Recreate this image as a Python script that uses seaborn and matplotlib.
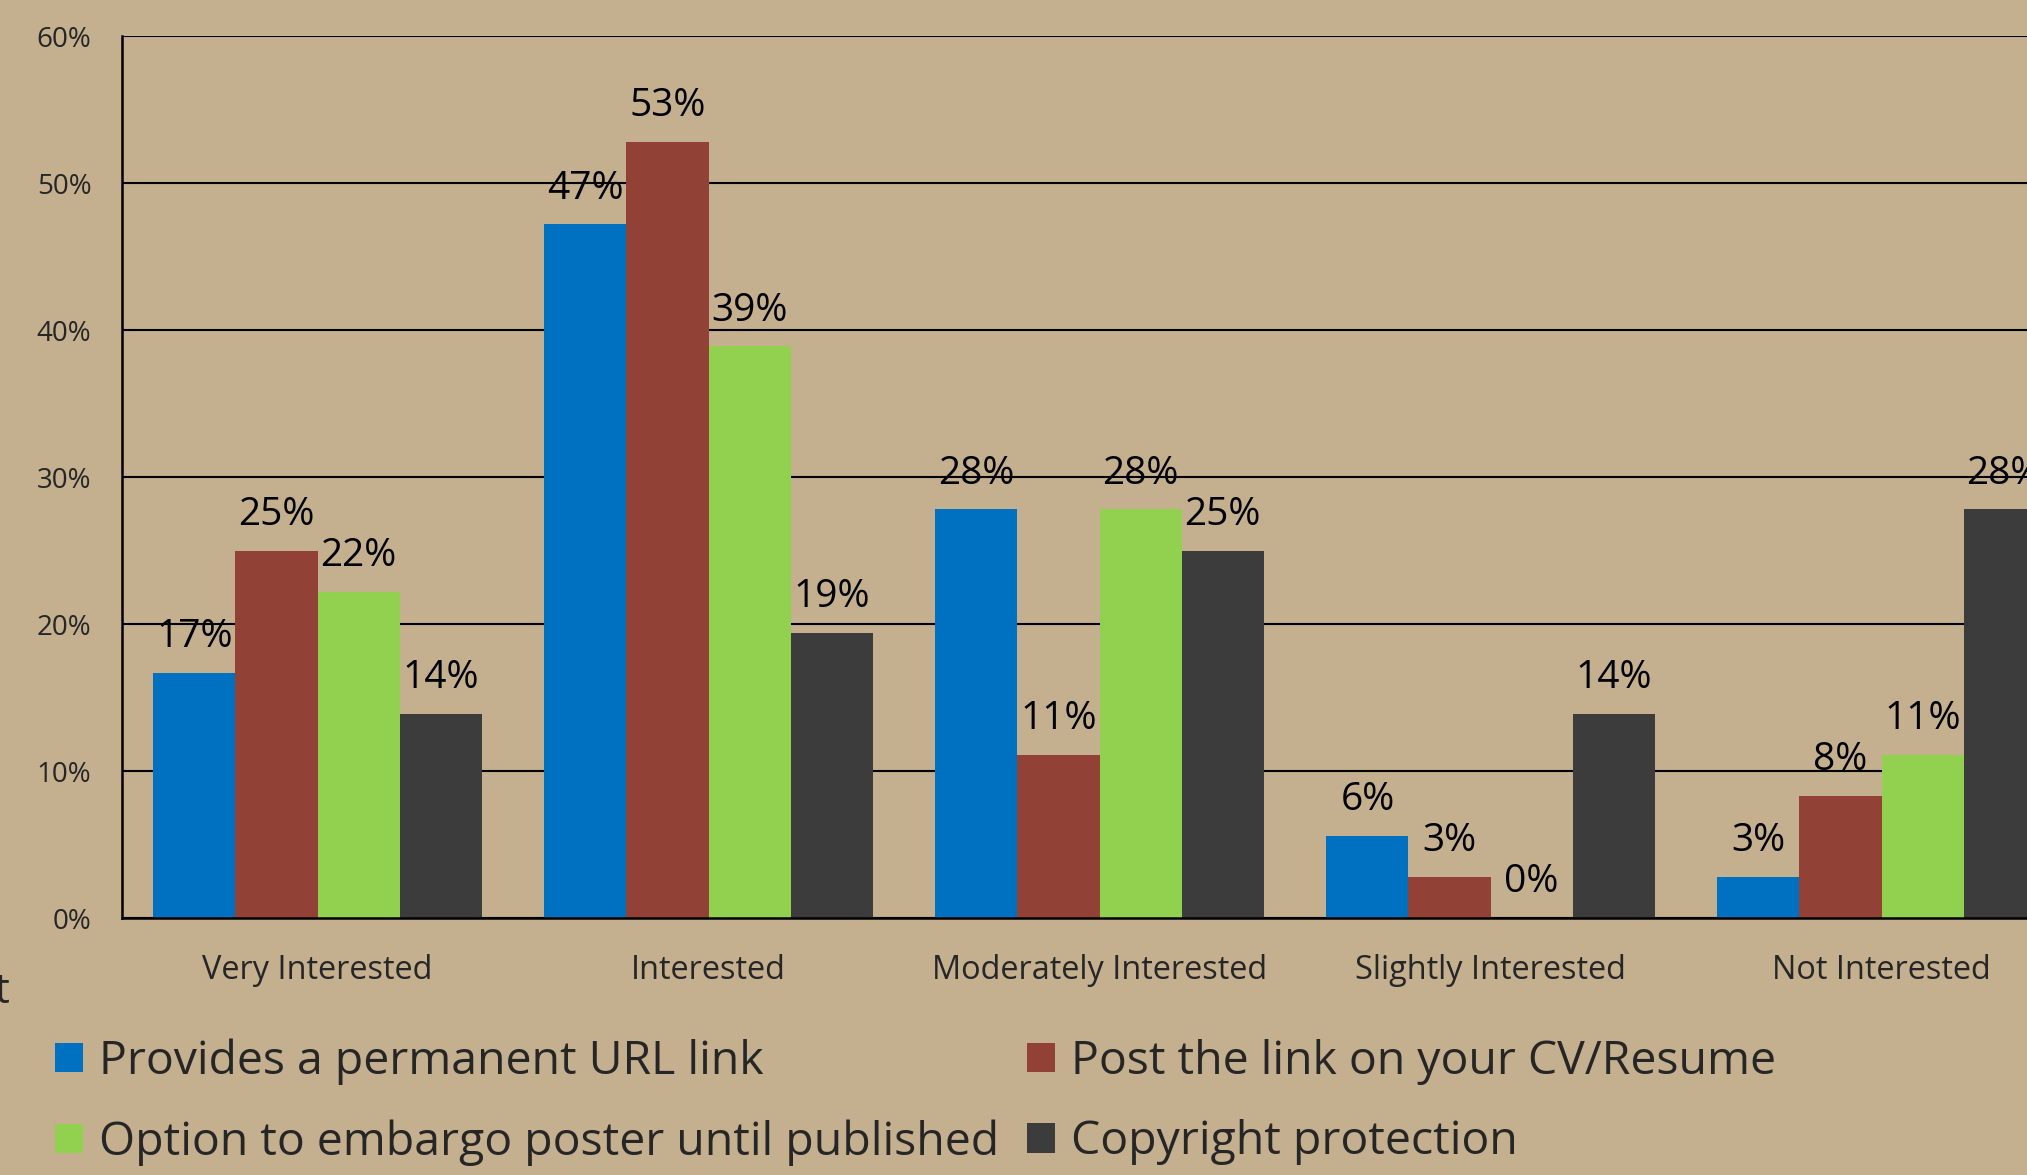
import matplotlib
matplotlib.use("Agg")
import matplotlib.pyplot as plt
import seaborn as sns
import pandas as pd
from matplotlib.patches import Patch
from matplotlib.ticker import FuncFormatter

# ---------------- Data ----------------
categories = ["Very Interested", "Interested", "Moderately Interested",
              "Slightly Interested", "Not Interested"]
series = ["Provides a permanent URL link", "Post the link on your CV/Resume",
          "Option to embargo poster until published", "Copyright protection"]
url_link = [16.7, 47.2, 27.8, 5.6, 2.8]
cv_resume = [25.0, 52.8, 11.1, 2.8, 8.3]
embargo = [22.2, 38.9, 27.8, 0.0, 11.1]
copyright_prot = [13.9, 19.4, 25.0, 13.9, 27.8]
y_ticks = [0, 10, 20, 30, 40, 50, 60]

colors = ["#0070C0", "#924136", "#92D050", "#3C3C3C"]
bg = "#C4AF8F"

rows = []
for name, vals in zip(series, [url_link, cv_resume, embargo, copyright_prot]):
    for cat, v in zip(categories, vals):
        rows.append({"category": cat, "series": name, "pct": v})
df = pd.DataFrame(rows)

# ---------------- Figure ----------------
sns.set_style("white")
plt.rcParams["font.family"] = ["Open Sans", "DejaVu Sans"]

fig = plt.figure(figsize=(20.27, 11.75), dpi=100, facecolor=bg)
ax = fig.add_axes([0.0602, 0.2187, 0.9645, 0.7506])
ax.set_facecolor(bg)

sns.barplot(data=df, x="category", y="pct", hue="series", order=categories,
            hue_order=series, palette=colors, width=0.84, gap=0,
            saturation=1, errorbar=None, legend=False, linewidth=0, ax=ax)

# data labels
for cont, vals in zip(ax.containers, [url_link, cv_resume, embargo, copyright_prot]):
    ax.bar_label(cont, labels=[f"{v:.0f}%" for v in vals], padding=12,
                 fontsize=28, color="black")

ax.set_ylim(0, 60)
ax.set_yticks(y_ticks)
ax.yaxis.set_major_formatter(FuncFormatter(lambda v, p: f"{v:.0f}%"))
ax.yaxis.grid(True, color="black", linewidth=1.5)
ax.set_axisbelow(True)
ax.tick_params(axis="y", length=0, pad=22, labelsize=20)
ax.tick_params(axis="x", length=0, pad=26, labelsize=23.4)
ax.set_xlabel("")
ax.set_ylabel("")
for side in ["top", "right"]:
    ax.spines[side].set_visible(False)
for side in ["left", "bottom"]:
    ax.spines[side].set_color("black")
    ax.spines[side].set_linewidth(1.8)

# ---------------- Legend ----------------
order = [0, 2, 1, 3]
handles = [Patch(facecolor=colors[i], edgecolor="none", linewidth=0,
                 label=series[i]) for i in order]
fig.legend(handles=handles, loc="upper left", bbox_to_anchor=(0.027, 0.1165),
           ncol=2, frameon=False, fontsize=33.4, handlelength=0.6,
           handleheight=0.6, handletextpad=0.35, columnspacing=0.6,
           labelspacing=0.75, borderpad=0, borderaxespad=0,
           bbox_transform=fig.transFigure)

# stray cut-off text on the left edge
fig.text(-0.003, 0.1464, "t", fontsize=30, va="baseline", ha="left")

fig.savefig("out.png", dpi=100, facecolor=bg)
